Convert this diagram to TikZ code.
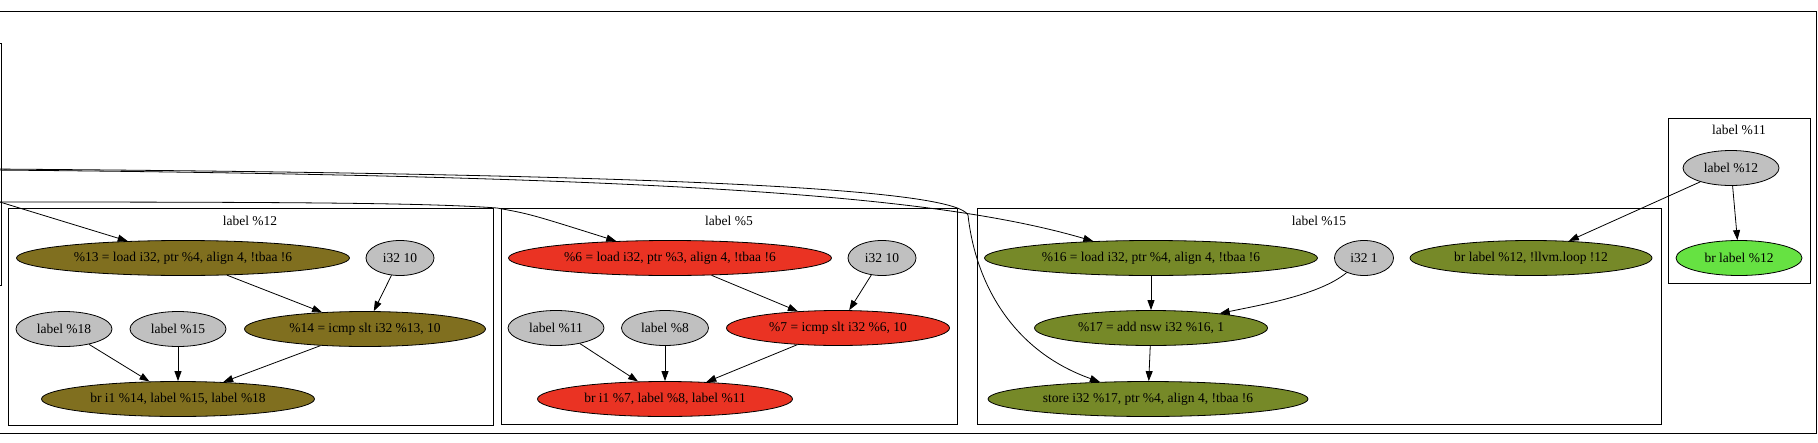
\documentclass[tikz,border=0pt]{standalone}
\usepackage{fontspec}
\setmainfont{Liberation Serif}
\usepackage{tikz}
\usetikzlibrary{positioning,shapes.geometric,arrows.meta}
\definecolor{brownop}{RGB}{128,111,31}
\definecolor{redop}{RGB}{234,51,35}
\definecolor{greenop}{RGB}{118,137,40}
\definecolor{brightop}{RGB}{102,226,66}
\definecolor{constgray}{RGB}{192,192,192}
\tikzset{
	basic/.style  = {draw, ellipse, inner sep=0pt, minimum height=35pt,
		line width=0.8pt, font=\fontsize{13.5}{16}\selectfont},
	const/.style  = {basic, fill=constgray},
	op12/.style   = {basic, fill=brownop},
	op5/.style    = {basic, fill=redop},
	op15/.style   = {basic, fill=greenop},
	op11/.style   = {basic, fill=brightop},
	cluster/.style = {draw, line width=0.8pt},
	title/.style  = {inner sep=0pt, font=\fontsize{13.5}{16}\selectfont}
}

\begin{document}
\begin{tikzpicture}[x=1pt, y=-1pt, line width=0.8pt,
		>={Triangle[length=10pt,width=7pt]}]
		\useasboundingbox (0,0) rectangle (1818,442);
		
		% outer frame and the block cut off at the left
		\draw[cluster] (-20,11) rectangle (1816.5,433);
		\draw[cluster] (-20,43) rectangle (1,285);
		
		% block label %12
		\draw[cluster] (8,208) rectangle (493,425);
		\node[title] (t12) at (250,221) {label \%12};
		\node[op12, minimum width=333pt] (n13) at (183,258) {\%13 = load i32, ptr \%4, align 4, !tbaa !6};
		\node[const, minimum width=68pt] (k12) at (400,258) {i32 10};
		\node[const, minimum width=96pt] (l18) at (64,329) {label \%18};
		\node[const, minimum width=96pt] (l15) at (178,329) {label \%15};
		\node[op12, minimum width=241pt] (n14) at (365,329) {\%14 = icmp slt i32 \%13, 10};
		\node[op12, minimum width=273pt] (br12) at (178,399) {br i1 \%14, label \%15, label \%18};
		
		% block label %5
		\draw[cluster] (501,208) rectangle (957,424);
		\node[title] (t5) at (729,221) {label \%5};
		\node[op5, minimum width=323pt] (n6) at (670,258) {\%6 = load i32, ptr \%3, align 4, !tbaa !6};
		\node[const, minimum width=68pt] (k5) at (882,258) {i32 10};
		\node[const, minimum width=96pt] (l11) at (556,328) {label \%11};
		\node[const, minimum width=87pt] (l8) at (665,328) {label \%8};
		\node[op5, minimum width=223pt] (n7) at (838,328) {\%7 = icmp slt i32 \%6, 10};
		\node[op5, minimum width=255pt] (br5) at (665,399) {br i1 \%7, label \%8, label \%11};
		
		% block label %15
		\draw[cluster] (977,208) rectangle (1661,424);
		\node[title] (t15) at (1319,221) {label \%15};
		\node[op15, minimum width=333pt] (n16) at (1151,258) {\%16 = load i32, ptr \%4, align 4, !tbaa !6};
		\node[const, minimum width=59pt] (k15) at (1364,258) {i32 1};
		\node[op15, minimum width=233pt] (n17) at (1151,328) {\%17 = add nsw i32 \%16, 1};
		\node[op15, minimum width=320pt] (st17) at (1148,399) {store i32 \%17, ptr \%4, align 4, !tbaa !6};
		\node[op15, minimum width=242pt] (br15) at (1531,258) {br label \%12, !llvm.loop !12};
		
		% block label %11
		\draw[cluster] (1668,118) rectangle (1810,283);
		\node[title] (t11) at (1739,130) {label \%11};
		\node[const, minimum width=96pt] (l12) at (1731,168) {label \%12};
		\node[op11, minimum width=126pt] (br11) at (1739,258) {br label \%12};
		
		\foreach \src/\dst in {n13/n14, k12/n14, l18/br12, l15/br12, n14/br12,
			n6/n7, k5/n7, l11/br5, l8/br5, n7/br5,
			n16/n17, n17/st17, l12/br15, l12/br11}
		\draw[->] (\src) -- (\dst);
		\draw[->] (k15) .. controls (1320,295) and (1260,305) .. (n17);
		
		% edges coming in from the left
		\coordinate (in13) at (-10,199);
		\coordinate (in6) at (-10,202);
		\coordinate (in16) at (-10,170);
		\coordinate (inst) at (-10,169);
		\coordinate (bend6) at (497,208);
		\coordinate (bendst) at (968,215);
		\draw[->] (in13) -- (n13);
		\draw[->] (in6) .. controls (300,202) and (430,203) .. (bend6) .. controls (530,214) .. (n6);
		\draw[->] (in16) .. controls (700,176) and (945,198) .. (n16);
		\draw[->] (inst) .. controls (700,174) and (955,190) .. (bendst)
			.. controls (975,280) and (1010,350) .. (st17);
	\end{tikzpicture}
\end{document}
